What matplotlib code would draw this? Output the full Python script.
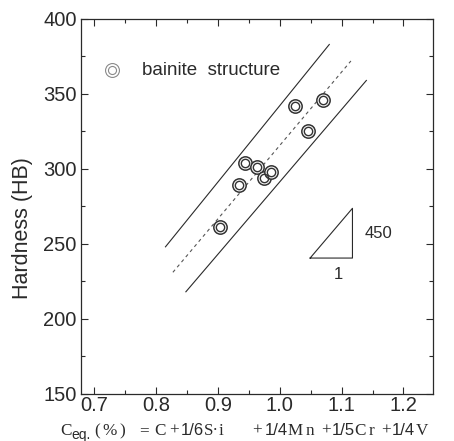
import matplotlib
matplotlib.use("Agg")
import matplotlib.pyplot as plt
from matplotlib.ticker import MultipleLocator

plt.rcParams['font.family'] = ['Liberation Sans', 'DejaVu Sans']

# data
ceq = [0.904, 0.934, 0.943, 0.963, 0.975, 0.986, 1.024, 1.045, 1.070]
hardness = [261, 289, 304, 301, 294, 298, 342, 325, 346]

upper_x = [0.815, 1.080]
upper_y = [248, 383]
mid_x = [0.827, 1.115]
mid_y = [231, 372]
lower_x = [0.848, 1.140]
lower_y = [218, 359]

tri_x = [1.049, 1.1175, 1.1175, 1.049]
tri_y = [240.5, 240.5, 273.7, 240.5]

xticks = [0.7, 0.8, 0.9, 1.0, 1.1, 1.2]
yticks = [150, 200, 250, 300, 350, 400]

# x-axis formula pieces: (text, font kind)
formula = [('C', 'serif'), ('eq.', 'sub'), ('(', 'serif'), ('%', 'serif'), (')', 'serif'),
           ('=', 'serif'), ('C', 'serif'), ('+', 'serif'), ('1/6', 'sans'),
           ('S·', 'serif'), ('i', 'serif'), ('+', 'serif'), ('1/4', 'sans'),
           ('M', 'serif'), ('n', 'serif'), ('+', 'serif'), ('1/5', 'sans'),
           ('C', 'serif'), ('r', 'serif'), ('+', 'serif'), ('1/4', 'sans'), ('V', 'serif')]
formula_px = [60, 71.5, 94, 102, 119, 139, 154, 169, 181, 204, 219, 252, 265,
              288, 306, 321, 332, 354, 369, 381, 392, 416]

ink = '#2a2a2a'
W, H = 454, 441

fig = plt.figure(figsize=(4.54, 4.41), dpi=100)
ax = fig.add_axes([80.8/W, 1-393.7/H, (432.5-80.8)/W, (393.7-19)/H])

ax.plot(upper_x, upper_y, color=ink, lw=0.8)
ax.plot(lower_x, lower_y, color=ink, lw=0.8)
ax.plot(mid_x, mid_y, color='#555555', lw=0.8, ls=(0, (3, 3)))
ax.plot(tri_x, tri_y, color=ink, lw=0.8)

ax.plot(ceq, hardness, ls='none', marker='o', ms=9.6, mfc='white', mec='#333333', mew=1.1)
ax.plot(ceq, hardness, ls='none', marker='o', ms=6.0, mfc='none', mec='#333333', mew=1.0)

# legend
ax.plot([0.7283], [366], ls='none', marker='o', ms=10.0, mfc='white', mec='#8a8a8a', mew=0.8)
ax.plot([0.7283], [366], ls='none', marker='o', ms=5.8, mfc='none', mec='#8a8a8a', mew=0.8)
ax.text(0.7767, 365.5, 'bainite  structure', fontsize=13.5, color=ink, va='center', ha='left')

ax.text(1.137, 256.6, '450', fontsize=12, color=ink, va='center', ha='left')
ax.text(1.095, 229.7, '1', fontsize=12, color=ink, va='center', ha='center')

ax.set_xlim(0.678, 1.247)
ax.set_ylim(150, 400)
ax.set_xticks(xticks)
ax.set_xticklabels([f'{v:.1f}' for v in xticks])
ax.set_yticks(yticks)
ax.set_yticklabels([str(v) for v in yticks])
ax.xaxis.set_minor_locator(MultipleLocator(0.05))
ax.yaxis.set_minor_locator(MultipleLocator(25))
ax.tick_params(which='both', direction='in', top=True, right=True, colors=ink,
               labelsize=14.5, width=0.8, pad=2)
ax.tick_params(which='major', length=5)
ax.tick_params(which='minor', length=3)
ax.tick_params(axis='y', pad=3)
for s in ax.spines.values():
    s.set_color(ink)
    s.set_linewidth(0.9)

ax.set_ylabel('Hardness (HB)', fontsize=15.5, color=ink)
ax.yaxis.set_label_coords((33-80.8)/351.7, (393.7-228)/374.7)

for (t, kind), px in zip(formula, formula_px):
    if kind == 'serif':
        fig.text(px/W, 1-435/H, t, fontsize=12.3, family='Liberation Serif',
                 color=ink, ha='left', va='baseline')
    elif kind == 'sans':
        fig.text(px/W, 1-435/H, t, fontsize=12.0, family='Liberation Sans',
                 color=ink, ha='left', va='baseline')
    else:
        fig.text(px/W, 1-439.5/H, t, fontsize=10, family='Liberation Sans',
                 color=ink, ha='left', va='baseline')

fig.savefig('out.png', dpi=100)
